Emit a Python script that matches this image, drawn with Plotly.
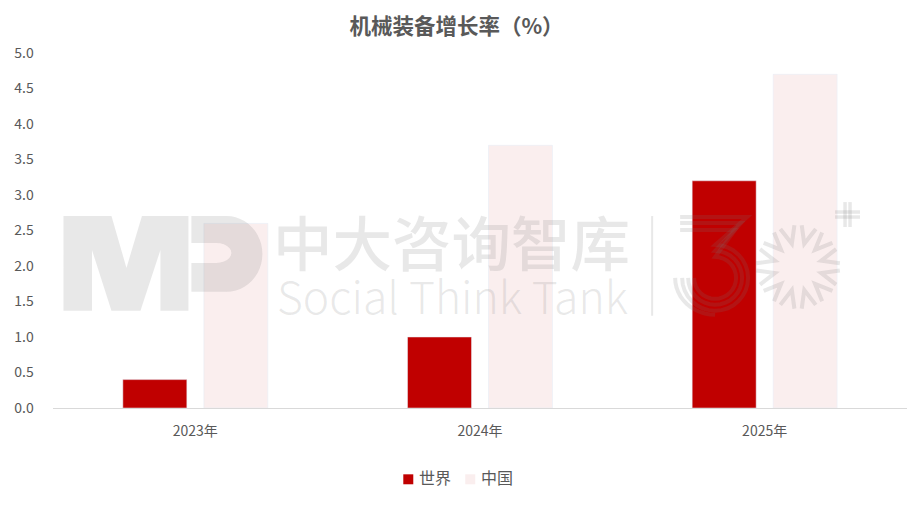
import math
import plotly.graph_objects as go

categories = ["2023年", "2024年", "2025年"]
series_names = ["世界", "中国"]
world = [0.4, 1.0, 3.2]
china = [2.6, 3.7, 4.7]
y_ticks = [0, 0.5, 1, 1.5, 2, 2.5, 3, 3.5, 4, 4.5, 5]
title_text = "机械装备增长率（%）"
watermark_cn = "中大咨询智库"
watermark_en = "Social Think Tank"

W, H = 913, 515
L, R, T, B = 52.5, 907, 52.5, 408.5
FONT = "Noto Sans CJK SC"
GREY = "#595959"
RED = "#C00000"
PINK = "#FAEEEE"
WM = "rgba(120,120,120,0.17)"


def px(x):
    return (x - L) / (R - L)


def py(y):
    return (B - y) / (B - T)


fig = go.Figure()
fig.add_bar(name=series_names[0], x=categories, y=world, marker_color=RED, showlegend=False)
fig.add_bar(name=series_names[1], x=categories, y=china, marker_color=PINK, showlegend=False)

ann = []
shapes = []


def text(x, y, s, size, weight=400, color=WM):
    ann.append(dict(x=px(x), y=py(y), xref="paper", yref="paper", text=s, showarrow=False,
                    xanchor="center", yanchor="middle",
                    font=dict(family=FONT, size=size, color=color, weight=weight)))


def path_of(points, close=False):
    return "M" + " L".join(f"{px(a):.5f},{py(b):.5f}" for a, b in points) + (" Z" if close else "")


def poly(points, color=WM):
    shapes.append(dict(type="path", xref="paper", yref="paper", path=path_of(points, True),
                       fillcolor=color, line_width=0, layer="above"))


def stroke(points, width=3.5):
    shapes.append(dict(type="path", xref="paper", yref="paper", path=path_of(points),
                       fillcolor="rgba(0,0,0,0)", line=dict(color=WM, width=width), layer="above"))


def arc(cx, cy, rx, ry, a0, a1, n=24):
    return [(cx + rx * math.cos(math.radians(a0 + (a1 - a0) * i / n)),
             cy + ry * math.sin(math.radians(a0 + (a1 - a0) * i / n))) for i in range(n + 1)]


# Watermark wordmark
text(451, 240, watermark_cn, 59.5, 500)
text(452, 295, watermark_en, 44.5, 300)

# MP logo
poly([(63, 216), (111, 216), (126, 268), (141.5, 216), (188, 216), (188, 311), (160, 311), (160, 250),
      (140, 311), (111, 311), (91.5, 250), (91.5, 311), (63, 311)])
poly([(191, 216), (226, 216)] + arc(226, 254, 36, 38, -90, 90) + [(191, 292), (191, 263), (216, 263)]
     + arc(216, 253, 15, 10, 90, -90, 12) + [(191, 243)])

# Divider
stroke([(652, 216), (652, 316)], 2)

# Striped 3 emblem
cx3, cy3 = 715, 278
for y0, xc, r in [(217, 747, 33), (223, 741, 27), (230, 735, 21)]:
    stroke([(680, y0), (xc, y0)] + arc(cx3, cy3, r, r, -90, 180), 4)
stroke(arc(cx3, cy3, 40, 37, 180, 90, 12), 4)

# Plus sign
for x0 in (845, 850):
    stroke([(x0, 202), (x0, 227)], 3.5)
for y0 in (212, 217):
    stroke([(835, y0), (860, y0)], 3.5)

# Sunburst ring
cxs, cys = 798, 267
for k in range(12):
    a = 15 + k * 30
    stroke([(cxs + 42 * math.cos(math.radians(a - 10)), cys + 42 * math.sin(math.radians(a - 10))),
            (cxs + 24 * math.cos(math.radians(a)), cys + 24 * math.sin(math.radians(a))),
            (cxs + 42 * math.cos(math.radians(a + 10)), cys + 42 * math.sin(math.radians(a + 10)))], 4)

# Legend
for name, color, x0 in zip(series_names, [RED, PINK], [403, 465]):
    poly([(x0, 475), (x0 + 10, 475), (x0 + 10, 485), (x0, 485)], color)
    text(x0 + 32, 478, name, 16, 400, GREY)

fig.update_layout(
    width=W, height=H, autosize=False,
    margin=dict(l=L, r=W - R, t=T, b=H - B, pad=0),
    paper_bgcolor="white", plot_bgcolor="white",
    barmode="group", bargap=0.431, bargroupgap=0.21,
    font=dict(family=FONT, color=GREY, size=14),
    title=dict(text=title_text, x=456.5 / W, xanchor="center", y=1 - 26.5 / H, yanchor="middle",
               font=dict(family=FONT, size=21.5, color=GREY, weight=700)),
    xaxis=dict(showgrid=False, showline=True, linecolor="#D9D9D9", linewidth=1,
               ticks="outside", ticklen=10.5, tickcolor="white",
               tickfont=dict(family=FONT, size=14, color=GREY), fixedrange=True),
    yaxis=dict(range=[0, 5], tickvals=y_ticks, tickformat=".1f", showgrid=False, zeroline=False, showline=False,
               ticks="outside", ticklen=15.5, tickcolor="white",
               tickfont=dict(family=FONT, size=14, color=GREY), fixedrange=True),
    annotations=ann, shapes=shapes,
)
fig.write_html("out.html", config=dict(displayModeBar=False),
               post_script="document.body.style.margin='0';document.body.style.overflow='hidden';")
